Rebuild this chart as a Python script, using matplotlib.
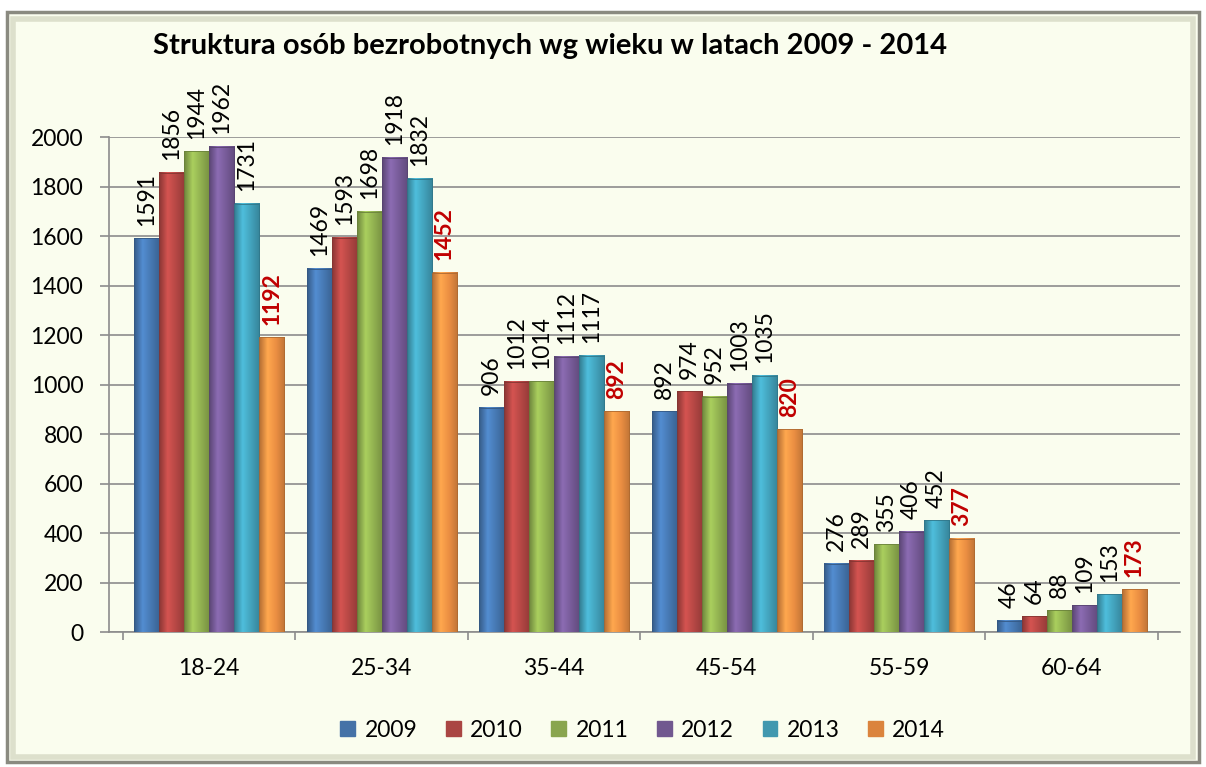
import numpy as np
import matplotlib.pyplot as plt
from matplotlib.patches import Rectangle
from matplotlib.colors import LinearSegmentedColormap, to_rgb

plt.rcParams['font.family'] = ['Lato', 'DejaVu Sans']

categories = ["18-24", "25-34", "35-44", "45-54", "55-59", "60-64"]
years = ["2009", "2010", "2011", "2012", "2013", "2014"]
values = {
    "2009": [1591, 1469, 906, 892, 276, 46],
    "2010": [1856, 1593, 1012, 974, 289, 64],
    "2011": [1944, 1698, 1014, 952, 355, 88],
    "2012": [1962, 1918, 1112, 1003, 406, 109],
    "2013": [1731, 1832, 1117, 1035, 452, 153],
    "2014": [1192, 1452, 892, 820, 377, 173],
}
colors = ["#4A7EBB", "#BE4B48", "#98B954", "#7D60A0", "#46AAC5", "#F79646"]
legend_colors = ["#4572A7", "#AA4643", "#89A54E", "#71588F", "#4198AF", "#DB843D"]

bg = "#FAFDEE"
fig = plt.figure(figsize=(12.06, 7.67), dpi=100, facecolor="white")

# chart area with a bevelled frame
fig.patches.append(Rectangle((0.006, 0.006), 0.988, 0.978, transform=fig.transFigure,
                             facecolor=bg, edgecolor="#8A8A80", linewidth=2.5, zorder=-10))
fig.patches.append(Rectangle((0.011, 0.013), 0.978, 0.962, transform=fig.transFigure,
                             fill=False, edgecolor="#DDE0CC", linewidth=4, zorder=-9))

ax = fig.add_axes([0.0904, 0.176, 0.888, 0.645])
ax.patch.set_alpha(0)

x = np.arange(len(categories))
n = len(years)
width = 0.145
offsets = (np.arange(n) - (n - 1) / 2) * width

for i, (yr, c) in enumerate(zip(years, colors)):
    bars = ax.bar(x + offsets[i], values[yr], width, color=c, edgecolor="none",
                  zorder=3, label=yr)
    base = np.array(to_rgb(c))
    cmap = LinearSegmentedColormap.from_list(
        yr, [base * 0.72, np.minimum(base * 1.12, 1), base * 0.95, base * 0.78])
    grad = np.linspace(0, 1, 64).reshape(1, -1)
    for b, v in zip(bars, values[yr]):
        x0, w, h = b.get_x(), b.get_width(), b.get_height()
        ax.imshow(grad, cmap=cmap, extent=(x0, x0 + w, 0, h), aspect="auto",
                  zorder=3.5, interpolation="bilinear")
        ax.add_patch(Rectangle((x0, 0), w, h, fill=False,
                               edgecolor=tuple(base * 0.7), linewidth=0.6, zorder=4))
        red = yr == "2014"
        ax.annotate(str(v), (x0 + w / 2, h), xytext=(0, 9), textcoords="offset points",
                    rotation=90, ha="center", va="bottom", fontsize=16.5,
                    color="#C00000" if red else "black",
                    fontweight="bold" if red else "normal",
                    zorder=5, annotation_clip=False)

ax.set_xlim(-0.581, len(categories) - 0.5 + 0.128)
ax.set_ylim(0, 2000)
ax.set_yticks(np.arange(0, 2001, 200))
ax.yaxis.grid(True, color="#8C8C8C", linewidth=1.2, zorder=0)
ax.set_axisbelow(True)

ax.set_xticks(x)
ax.set_xticklabels(categories, fontsize=16.5)
ax.set_xticks(np.arange(-0.5, len(categories)), minor=True)
ax.tick_params(axis="x", which="major", length=0, pad=19)
ax.tick_params(axis="x", which="minor", length=6, color="#8C8C8C", width=1.2)
ax.tick_params(axis="y", labelsize=16.5, length=6.5, color="#8C8C8C", width=1.2, pad=12)

for s in ["top", "right"]:
    ax.spines[s].set_visible(False)
for s in ["left", "bottom"]:
    ax.spines[s].set_color("#8C8C8C")
    ax.spines[s].set_linewidth(1.2)

fig.text(0.456, 0.94, "Struktura osób bezrobotnych wg wieku w latach 2009 - 2014",
         ha="center", va="center", fontsize=21, fontweight="bold")

handles = [Rectangle((0, 0), 1, 1, color=c) for c in legend_colors]
fig.legend(handles, years, loc="center", bbox_to_anchor=(0.533, 0.048), ncol=6,
           frameon=False, fontsize=16.5, handlelength=0.65, handleheight=0.65,
           columnspacing=1.25, handletextpad=0.4)

fig.savefig("out.png", dpi=100, facecolor="white")
